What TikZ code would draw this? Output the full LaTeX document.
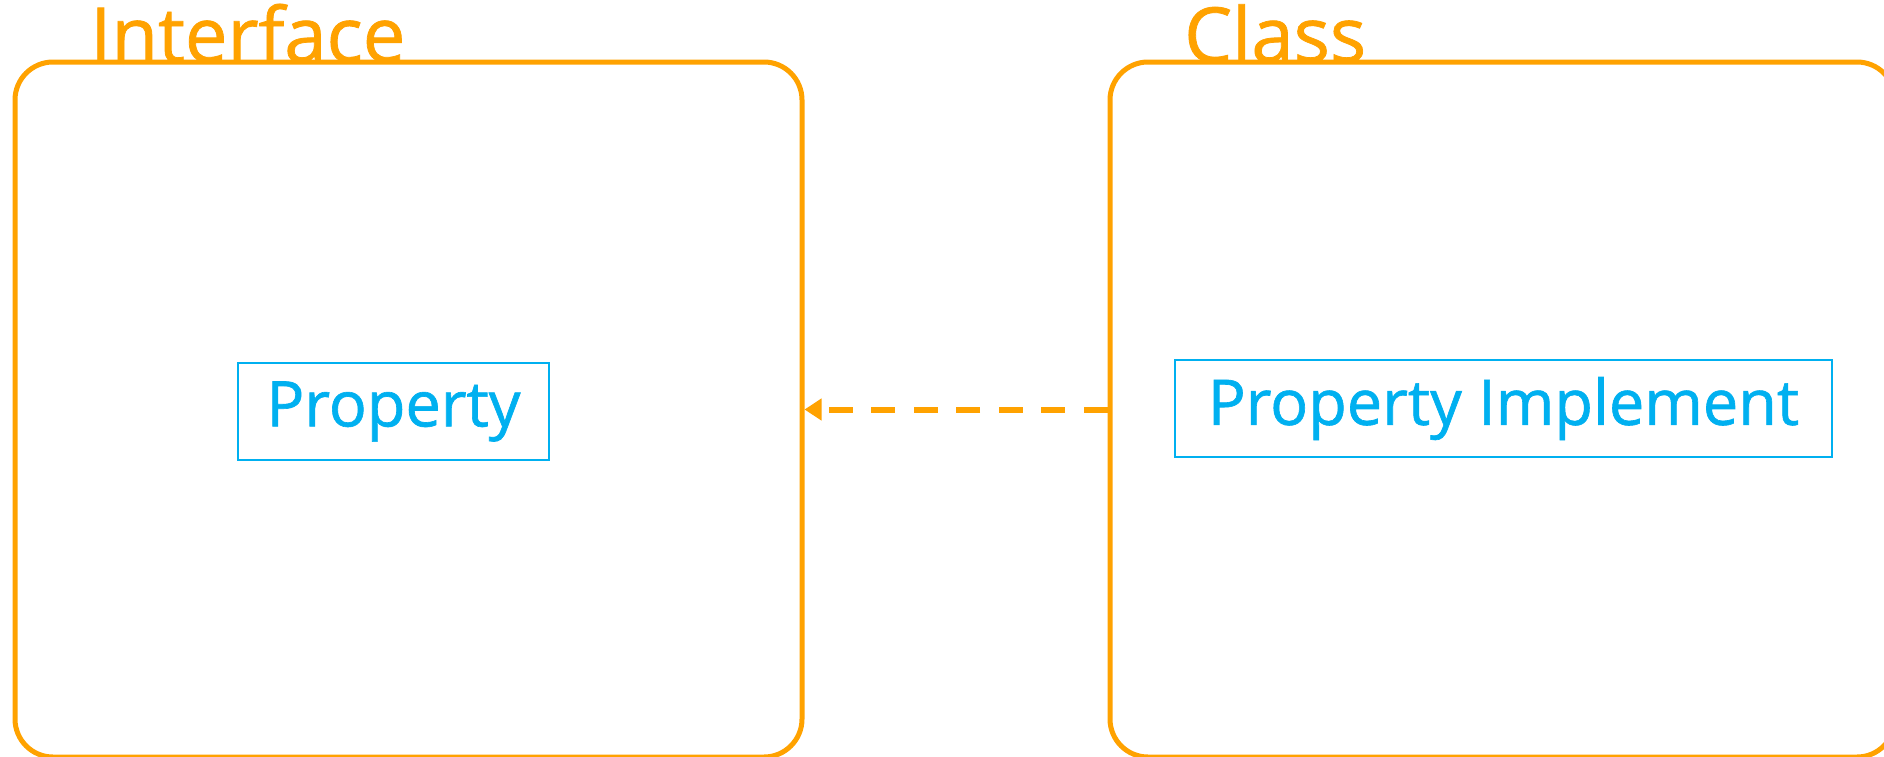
\documentclass[tikz,border=0pt]{standalone}
\usepackage{fontspec}
\setmainfont[FakeBold=1]{Open Sans}
\newfontfamily\lblfont[FakeBold=1]{Open Sans}
\usetikzlibrary{arrows.meta}
\definecolor{orng}{HTML}{FFA200}
\definecolor{cyanb}{HTML}{00B0F0}
\tikzset{
  outerbox/.style={draw=orng, line width=5pt, rounded corners=38pt, inner sep=0pt},
  titletext/.style={text=orng, inner sep=0pt, anchor=base west, font=\lblfont\fontsize{76}{80}\selectfont},
  innerbox/.style={draw=cyanb, line width=2pt, inner sep=0pt, text=cyanb, font=\lblfont\fontsize{63}{70}\selectfont},
  depend/.style={draw=orng, line width=6pt, dash pattern=on 24pt off 18.5pt, -{Triangle[length=17pt,width=21pt]}}
}
\begin{document}
\begin{tikzpicture}[x=1pt,y=-1pt]
\useasboundingbox (0,0) rectangle (1884,756);
\clip (0,0) rectangle (1884,756);
\fill[white] (0,0) rectangle (1884,756);
% outer boxes
\node[outerbox, minimum width=787pt, minimum height=695pt] (iface) at (408.5,409.5) {};
\node[outerbox, minimum width=785pt, minimum height=695pt] (cls) at (1502.5,409.5) {};
% titles
\node[titletext] (ifacetitle) at (90,62) {Interface};
\node[titletext] (clstitle) at (1184,62) {Class};
% inner boxes
\node[innerbox, minimum width=311pt, minimum height=97pt] (prop) at (393.5,411.5) {Property};
\node[innerbox, minimum width=657pt, minimum height=97pt] (propimpl) at (1503.5,408.5) {Property Implement};
% dependency arrow
\draw[depend] (cls.west) -- (iface.east);
\end{tikzpicture}
\end{document}
